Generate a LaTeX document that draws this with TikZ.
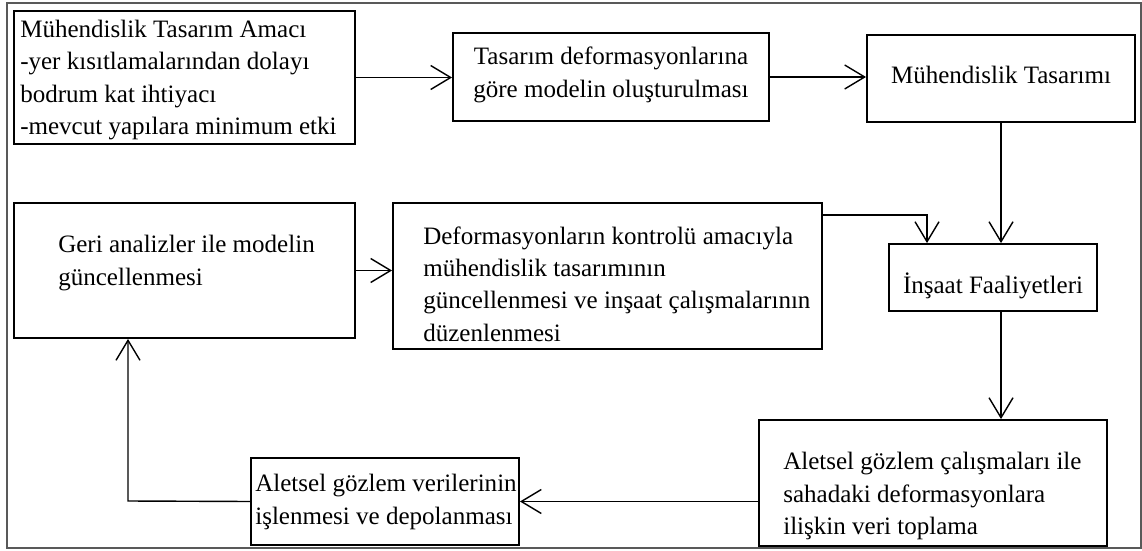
\documentclass[tikz,border=0pt]{standalone}
\usepackage{fontspec}
\setmainfont{Liberation Serif}
\usetikzlibrary{arrows.meta}
\begin{document}
\begin{tikzpicture}[x=0.025cm, y=-0.025cm,
  box/.style={draw, line width=1.3pt, inner sep=0pt},
  txt/.style={inner sep=0pt, align=left, font=\fontsize{17.8}{23}\selectfont},
  flow/.style={line width=1pt, -{Straight Barb[length=5mm, width=6mm, line width=1pt]}}]
\useasboundingbox (0,0) rectangle (1142,551);
\draw[line width=1pt, black!65] (7,3) rectangle (1141,548);
% boxes
\node[box, minimum width=8.525cm, minimum height=3.325cm] (goal) at (184.5,77.5) {};
\node[box, minimum width=7.9cm, minimum height=2.2cm] (model) at (611,77) {};
\node[box, minimum width=6.7cm, minimum height=2.175cm] (design) at (1001,78.5) {};
\node[box, minimum width=8.525cm, minimum height=3.375cm] (back) at (184.5,270.5) {};
\node[box, minimum width=10.725cm, minimum height=3.65cm] (update) at (607.5,276) {};
\node[box, minimum width=5.2cm, minimum height=1.675cm] (site) at (993,277.5) {};
\node[box, minimum width=8.7cm, minimum height=3.15cm] (collect) at (933,483) {};
\node[box, minimum width=6.7cm, minimum height=2.175cm] (process) at (385,501.5) {};
% texts
\node[txt, anchor=west] (goal-t) at (20,80) {Mühendislik Tasarım Amacı\\-yer kısıtlamalarından dolayı\\bodrum kat ihtiyacı\\-mevcut yapılara minimum etki};
\node[txt, align=center] (model-t) at (611,75) {Tasarım deformasyonlarına\\göre modelin oluşturulması};
\node[txt] (design-t) at (1001,75) {Mühendislik Tasarımı};
\node[txt, anchor=west] (back-t) at (58,263) {Geri analizler ile modelin\\güncellenmesi};
\node[txt, anchor=west] (update-t) at (423,284) {Deformasyonların kontrolü amacıyla\\mühendislik tasarımının\\güncellenmesi ve inşaat çalışmalarının\\düzenlenmesi};
\node[txt] (site-t) at (993,286) {İnşaat Faaliyetleri};
\node[txt, anchor=west] (collect-t) at (783,496) {Aletsel gözlem çalışmaları ile\\sahadaki deformasyonlara\\ilişkin veri toplama};
\node[txt] (process-t) at (386,502) {Aletsel gözlem verilerinin\\işlenmesi ve depolanması};
% connectors
\coordinate (turn) at (927,215);
\coordinate (corner) at (128,501);
\draw[flow] (goal.east) -- (goal.east -| model.west);
\draw[flow] (model.east) -- (model.east -| design.west);
\draw[flow] (design.south) -- (design.south |- site.north);
\draw[flow] (update.east |- turn) -- (turn) -- (turn |- site.north);
\draw[flow] (back.east) -- (back.east -| update.west);
\draw[flow] (design.south |- site.south) -- (design.south |- collect.north);
\draw[flow] (collect.west |- process.east) -- (process.east);
\draw[flow] (process.west) -- (corner) -- (corner |- back.south);
\end{tikzpicture}
\end{document}
